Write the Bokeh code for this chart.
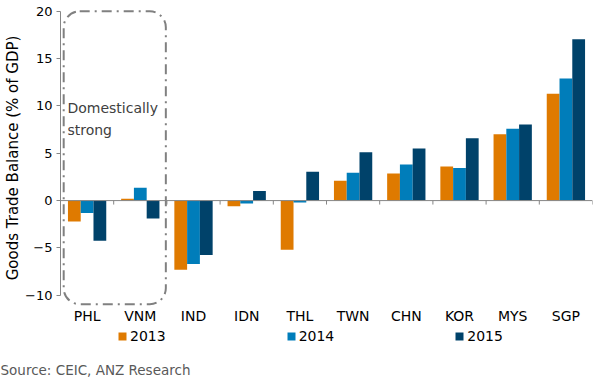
from bokeh.plotting import figure
from bokeh.models import (Range1d, FixedTicker, Legend, Label, Span, Title)
from bokeh.layouts import column
from bokeh.embed import file_html
from bokeh.resources import INLINE

categories = ["PHL", "VNM", "IND", "IDN", "THL", "TWN", "CHN", "KOR", "MYS", "SGP"]
y2013 = [-2.2, 0.2, -7.3, -0.6, -5.2, 2.1, 2.85, 3.6, 7.0, 11.3]
y2014 = [-1.3, 1.35, -6.7, -0.3, -0.2, 2.95, 3.8, 3.45, 7.6, 12.9]
y2015 = [-4.25, -1.9, -5.75, 1.0, 3.05, 5.1, 5.5, 6.6, 8.05, 17.05]
years = ["2013", "2014", "2015"]
colors = ["#DF7A00", "#007DBA", "#00426A"]
y_ticks = [-10, -5, 0, 5, 10, 15, 20]

FONT = "DejaVu Sans"
n = len(categories)
W = 597
bw = 0.24
offsets = [-bw, 0.0, bw]
series = [y2013, y2014, y2015]

# ---------------- main chart ----------------
p = figure(width=W, height=326, output_backend="svg", toolbar_location=None,
           x_range=Range1d(0, n), y_range=Range1d(-11.3, 20.3),
           min_border_left=60, min_border_right=5, min_border_top=8,
           min_border_bottom=18)
p.outline_line_color = None
p.grid.visible = False

for vals, off, col in zip(series, offsets, colors):
    xs = [i + 0.5 + off for i in range(n)]
    p.vbar(x=xs, top=vals, bottom=0, width=bw, fill_color=col, line_color=None)

# zero line with category-boundary ticks
p.add_layout(Span(location=0, dimension="width", line_color="#868686", line_width=1))
p.segment(x0=list(range(1, n + 1)), x1=list(range(1, n + 1)),
          y0=0, y1=-0.42, line_color="#868686", line_width=1)

# y axis
ya = p.yaxis[0]
ya.ticker = FixedTicker(ticks=y_ticks)
ya.bounds = (-10, 20)
ya.axis_line_color = "#868686"
ya.major_tick_line_color = "#868686"
ya.major_tick_out = 4
ya.major_tick_in = 0
ya.minor_tick_line_color = None
ya.major_label_standoff = 4
ya.major_label_text_font = FONT
ya.major_label_text_font_size = "13px"
ya.major_label_text_color = "black"
ya.axis_label = "Goods Trade Balance (% of GDP)"
ya.axis_label_text_font = FONT
ya.axis_label_text_font_size = "15px"
ya.axis_label_text_font_style = "normal"
ya.axis_label_text_color = "black"
ya.axis_label_standoff = 0

# bottom category labels
xa = p.xaxis[0]
xa.ticker = FixedTicker(ticks=[i + 0.5 for i in range(n)])
xa.major_label_overrides = {i + 0.5: c for i, c in enumerate(categories)}
xa.axis_line_color = None
xa.major_tick_line_color = None
xa.minor_tick_line_color = None
xa.major_tick_out = 0
xa.major_label_standoff = 0
xa.major_label_text_font = FONT
xa.major_label_text_font_size = "14px"
xa.major_label_text_color = "black"

# dashed "Domestically strong" box
p.quad(left=0.06, right=1.98, top=20.0, bottom=-10.95, fill_alpha=0,
       line_color="#808080", line_width=2, line_dash="10 5 2 5",
       border_radius=16)
p.add_layout(Label(x=0.13, y=9.8, text="Domestically", text_font=FONT,
                   text_font_size="14px", text_color="#404040",
                   text_baseline="middle"))
p.add_layout(Label(x=0.13, y=7.5, text="strong", text_font=FONT,
                   text_font_size="14px", text_color="#404040",
                   text_baseline="middle"))

# ---------------- legend + source strip ----------------
H2 = 51
p2 = figure(width=W, height=H2, output_backend="svg", toolbar_location=None,
            x_range=Range1d(0, n), y_range=Range1d(0, 1),
            x_axis_type=None, y_axis_type=None,
            min_border_left=60, min_border_right=5, min_border_top=0,
            min_border_bottom=18)
p2.outline_line_color = None
p2.grid.visible = False
items = []
for vals, off, col, yr in zip(series, offsets, colors, years):
    xs = [i + 0.5 + off for i in range(n)]
    r = p2.vbar(x=xs, top=vals, bottom=0, width=bw, fill_color=col,
                line_color=None, visible=False)
    items.append((yr, [r]))

legend = Legend(items=items, orientation="horizontal", location=(57, 15),
                glyph_width=10, glyph_height=10, label_standoff=3,
                spacing=120, padding=0, margin=0,
                label_text_font=FONT, label_text_font_size="14px",
                label_text_color="black", border_line_color=None,
                background_fill_alpha=0, inactive_fill_alpha=0,
                click_policy="none")
p2.add_layout(legend, "center")

p2.add_layout(Title(text="Source: CEIC, ANZ Research", align="left", offset=-60,
                    standoff=0, text_font=FONT, text_font_size="13.5px",
                    text_font_style="normal", text_color="#595959"), "below")

layout = column(p, p2, spacing=0)
open("out.html", "w").write(file_html(layout, INLINE))
